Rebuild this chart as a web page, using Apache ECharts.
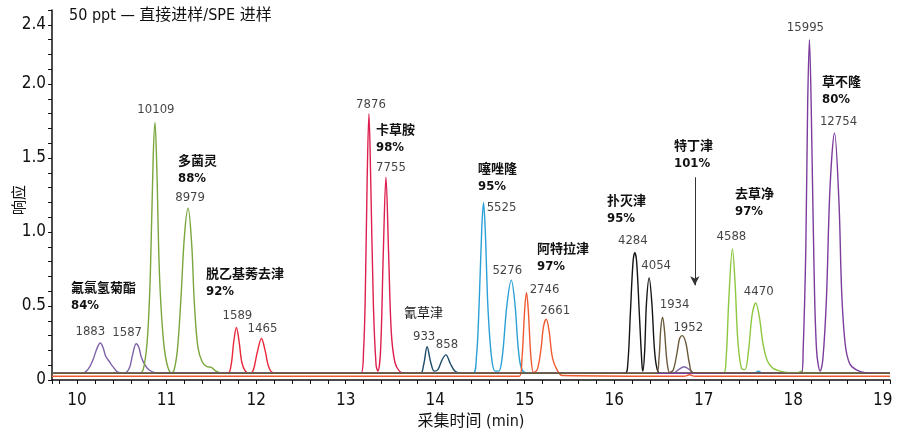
<!DOCTYPE html>
<html>
<head>
<meta charset="utf-8">
<script src="https://cdn.jsdelivr.net/npm/echarts@6/dist/echarts.min.js"></script>
<style>
  html, body { margin: 0; padding: 0; background: #fff; }
  #chart { width: 901px; height: 435px; }
</style>
</head>
<body>
<div id="chart"></div>
<script>
// 色谱图数据 (时间 min, 响应)
const xLabels = [10, 11, 12, 13, 14, 15, 16, 17, 18, 19];
const yLabels = [0, 0.5, 1.0, 1.5, 2.0, 2.4];

const fluchloralin = [[9.72,0.045],[10.05,0.045],[10.12,0.07],[10.18,0.14],[10.22,0.21],[10.26,0.25],[10.29,0.22],[10.32,0.16],[10.36,0.125],[10.40,0.09],[10.45,0.055],[10.52,0.045],[10.55,0.05],[10.59,0.09],[10.62,0.17],[10.66,0.245],[10.69,0.22],[10.72,0.15],[10.76,0.1],[10.80,0.07],[10.87,0.05],[16.65,0.045],[16.72,0.07],[16.78,0.09],[16.84,0.07],[16.9,0.045],[19.08,0.045]];
const carbendazim = [[9.72,0.045],[10.70,0.045],[10.75,0.1],[10.79,0.32],[10.82,0.75],[10.85,1.5],[10.87,1.74],[10.89,1.45],[10.92,0.72],[10.96,0.3],[11.0,0.12],[11.05,0.05],[11.08,0.06],[11.12,0.2],[11.16,0.55],[11.2,0.98],[11.24,1.16],[11.28,0.92],[11.31,0.52],[11.35,0.22],[11.40,0.12],[11.45,0.09],[11.5,0.085],[11.55,0.06],[11.62,0.045],[19.08,0.045]];
const deethylatrazine = [[9.72,0.045],[11.68,0.045],[11.72,0.1],[11.75,0.26],[11.78,0.355],[11.81,0.26],[11.84,0.12],[11.88,0.06],[11.93,0.045],[11.97,0.07],[12.01,0.18],[12.06,0.28],[12.10,0.2],[12.14,0.09],[12.19,0.05],[19.08,0.045]];
const carbetamide = [[9.72,0.045],[13.17,0.045],[13.20,0.2],[13.22,0.6],[13.24,1.35],[13.26,1.8],[13.28,1.35],[13.31,0.5],[13.34,0.1],[13.36,0.06],[13.39,0.2],[13.42,0.85],[13.45,1.37],[13.48,0.85],[13.51,0.32],[13.55,0.12],[13.60,0.06],[13.66,0.045],[19.08,0.045]];
const cyanazine = [[9.72,0.045],[13.83,0.045],[13.87,0.1],[13.91,0.225],[13.95,0.12],[13.99,0.06],[14.03,0.07],[14.08,0.14],[14.12,0.17],[14.17,0.11],[14.22,0.06],[14.28,0.045],[19.08,0.045]];
const thiazuron = [[9.72,0.045],[14.42,0.045],[14.46,0.15],[14.49,0.5],[14.52,1.02],[14.54,1.2],[14.56,1.0],[14.59,0.48],[14.63,0.15],[14.67,0.06],[14.71,0.06],[14.75,0.16],[14.80,0.5],[14.85,0.675],[14.89,0.52],[14.93,0.2],[14.97,0.07],[15.05,0.045],[17.56,0.045],[17.61,0.06],[17.66,0.045],[19.08,0.045]];
const atrazine = [[9.72,0.025],[14.94,0.025],[14.97,0.15],[15.0,0.48],[15.02,0.59],[15.04,0.47],[15.07,0.15],[15.10,0.05],[15.14,0.07],[15.18,0.2],[15.21,0.36],[15.24,0.41],[15.27,0.34],[15.31,0.15],[15.36,0.07],[15.42,0.03],[16.78,0.025],[16.84,0.035],[16.9,0.025],[19.08,0.025]];
const propazine = [[9.72,0.045],[16.12,0.045],[16.15,0.1],[16.18,0.45],[16.21,0.8],[16.23,0.86],[16.25,0.8],[16.28,0.45],[16.31,0.1],[16.32,0.06],[16.34,0.2],[16.36,0.52],[16.39,0.69],[16.42,0.52],[16.45,0.2],[16.48,0.07],[16.52,0.045],[19.08,0.045]];
const terbuthylazine = [[9.72,0.045],[16.47,0.045],[16.50,0.15],[16.52,0.35],[16.54,0.425],[16.56,0.34],[16.59,0.12],[16.62,0.05],[16.66,0.07],[16.70,0.18],[16.73,0.28],[16.76,0.30],[16.80,0.25],[16.84,0.11],[16.88,0.05],[19.08,0.045]];
const prometryn = [[9.72,0.045],[17.22,0.045],[17.25,0.15],[17.28,0.55],[17.32,0.885],[17.35,0.65],[17.38,0.27],[17.42,0.08],[17.46,0.07],[17.50,0.2],[17.54,0.44],[17.58,0.52],[17.62,0.43],[17.66,0.25],[17.71,0.13],[17.77,0.08],[17.85,0.06],[17.95,0.05],[18.05,0.05],[18.09,0.06],[18.12,0.045],[19.08,0.045]];
const neburon = [[9.72,0.045],[18.09,0.045],[18.11,0.2],[18.14,0.9],[18.16,1.85],[18.18,2.3],[18.20,1.85],[18.23,0.8],[18.26,0.2],[18.30,0.06],[18.33,0.14],[18.37,0.55],[18.41,1.3],[18.46,1.67],[18.51,1.2],[18.54,0.6],[18.58,0.24],[18.63,0.11],[18.70,0.07],[18.80,0.05],[19.08,0.045]];

// 峰面积标注
const peakTimes = [10.26,10.66,10.87,11.24,11.78,12.06,13.26,13.45,13.91,14.12,14.54,14.85,15.02,15.24,16.23,16.39,16.54,16.76,17.32,17.58,18.18,18.46];
const peakHeights = [0.25,0.245,1.74,1.16,0.355,0.28,1.8,1.37,0.225,0.17,1.2,0.675,0.59,0.41,0.86,0.69,0.425,0.30,0.885,0.52,2.3,1.67];
const peakAreas = ['1883','1587','10109','8979','1589','1465','7876','7755','933','858','5525','5276','2746','2661','4284','4054','1934','1952','4588','4470','15995','12754'];

// 化合物名称与回收率
const compoundNames = ['氟氯氢菊酯','多菌灵','脱乙基莠去津','卡草胺','氰草津','噻唑隆','阿特拉津','扑灭津','特丁津','去草净','草不隆'];
const recoveries = ['84%','88%','92%','98%','','95%','97%','95%','101%','97%','80%'];
const arrowAt = [16.9, 1.37, 0.64];

// 样式 / 位置
const NARROW = "'DejaVu Sans Condensed','Noto Sans CJK SC',sans-serif";
const CJK = "'Noto Sans CJK SC',sans-serif";
const labelOffsets = [[-10,-11],[-9,-11],[1,-13],[2,-11],[1,-12],[1,-10],[2,-9],[5,-10],[-3,-10],[1,-10],[18,5],[-4,-9],[18,-3],[9,-9],[-2,-12],[7,-12],[12,-12],[6,-8],[-1,-12],[3,-11],[-4,-12],[4,-11]];
const namePos = [[71,287],[178,160],[206,273],[376,129],[404,312],[478,168],[537,248],[607,200],[674,145],[735,193],[822,81]];

const traces = [
    { data: fluchloralin, color: '#7e62a8' },
    { data: carbendazim, color: '#7aa63c' },
    { data: deethylatrazine, color: '#e8283a' },
    { data: carbetamide, color: '#dd1e4e' },
    { data: cyanazine, color: '#1e4d6b' },
    { data: thiazuron, color: '#2aa0d8' },
    { data: atrazine, color: '#f05a30' },
    { data: propazine, color: '#151515' },
    { data: prometryn, color: '#8dc740' },
    { data: neburon, color: '#7b3c9c' },
    { data: terbuthylazine, color: '#6b5a3a' },
];

const chart = echarts.init(document.getElementById('chart'));

const series = traces.map(tr => ({
    type: 'line',
    data: tr.data,
    smooth: 0.35,
    showSymbol: false,
    lineStyle: { color: tr.color, width: 1.4 },
    itemStyle: { color: tr.color },
    animation: false,
}));

// 箭头
series[10].markLine = {
    silent: true,
    symbol: ['none', 'arrow'],
    symbolSize: [7, 9],
    label: { show: false },
    lineStyle: { color: '#333', width: 1, type: 'solid' },
    data: [[{ coord: [arrowAt[0], arrowAt[1]] }, { coord: [arrowAt[0], arrowAt[2]] }]],
};

series.push({
    type: 'scatter',
    symbolSize: 0,
    silent: true,
    z: 10,
    data: peakTimes.map((t, i) => ({
        value: [t, peakHeights[i]],
        name: peakAreas[i],
        label: { offset: labelOffsets[i] },
    })),
    label: {
        show: true,
        position: 'inside',
        formatter: '{b}',
        color: '#111',
        fontSize: 13,
        fontFamily: NARROW,
    },
    animation: false,
});

const graphics = [{
    type: 'text',
    left: 69,
    top: 8,
    style: { text: '50 ppt — 直接进样/SPE 进样', font: "16px " + NARROW, fill: '#111' },
}, {
    // y 轴名称 (自下而上)
    type: 'text',
    x: 18, y: 200,
    rotation: Math.PI / 2,
    style: { text: '响应', font: '15px ' + CJK, fill: '#111', align: 'center', verticalAlign: 'middle' },
}];
compoundNames.forEach((name, i) => {
    const bold = recoveries[i] !== '';
    graphics.push({
        type: 'text', x: namePos[i][0], y: namePos[i][1],
        style: { text: name, font: (bold ? 'bold ' : '') + '13px ' + CJK, fill: '#111', verticalAlign: 'middle' },
    });
    if (bold) {
        graphics.push({
            type: 'text', x: namePos[i][0], y: namePos[i][1] + 19,
            style: { text: recoveries[i], font: 'bold 13px ' + NARROW, fill: '#111', verticalAlign: 'middle' },
        });
    }
});

const option = {
    backgroundColor: '#fff',
    animation: false,
    grid: { left: 52, right: 11, top: 10, bottom: 55, containLabel: false, outerBoundsMode: 'none' },
    xAxis: {
        type: 'value',
        min: 9.72,
        max: 19.08,
        splitNumber: 10,
        offset: 5,
        name: '采集时间 (min)',
        nameLocation: 'middle',
        nameGap: 24,
        nameTextStyle: { fontSize: 16, color: '#111', fontFamily: NARROW },
        axisLine: { lineStyle: { color: '#111', width: 1.5 } },
        axisTick: { show: true, length: 4, lineStyle: { color: '#111' } },
        minorTick: { show: true, splitNumber: 5, length: 4, lineStyle: { color: '#111' } },
        splitLine: { show: false },
        axisLabel: {
            color: '#111', fontSize: 17, fontFamily: NARROW, margin: 7,
            showMinLabel: false, showMaxLabel: false,
            formatter: v => xLabels.some(x => Math.abs(x - v) < 1e-6) ? String(Math.round(v)) : '',
        },
    },
    yAxis: {
        type: 'value',
        min: 0,
        max: 2.5,
        interval: 0.1,
        axisLine: { show: true, lineStyle: { color: '#111', width: 1.5 } },
        axisTick: { show: true, length: 4, lineStyle: { color: '#111' } },
        splitLine: { show: false },
        axisLabel: {
            color: '#111', fontSize: 17, fontFamily: NARROW, margin: 6,
            formatter: v => {
                const hit = yLabels.find(y => Math.abs(y - v) < 1e-6);
                if (hit === undefined) return '';
                return hit === 0 ? '0' : hit.toFixed(1);
            },
        },
    },
    graphic: graphics,
    series: series,
};

chart.setOption(option);
</script>
</body>
</html>
